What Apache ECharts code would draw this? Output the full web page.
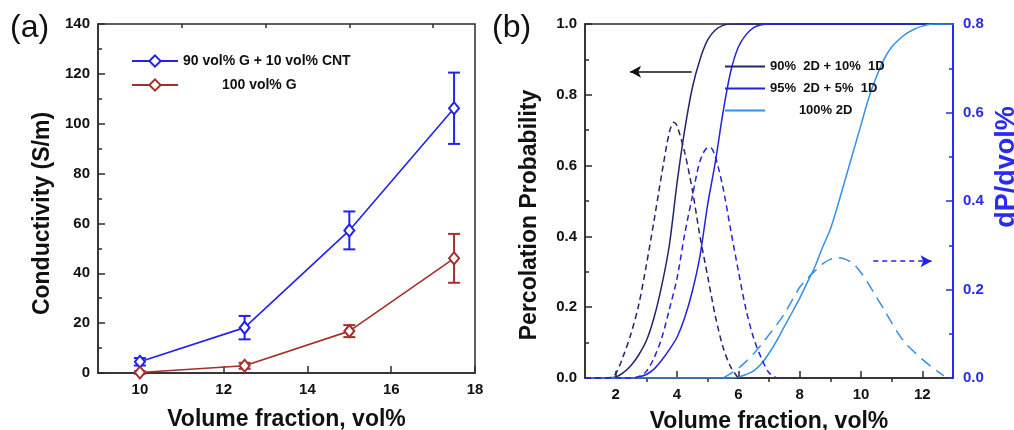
<!DOCTYPE html>
<html>
<head>
<meta charset="utf-8">
<script src="https://cdn.jsdelivr.net/npm/echarts@6/dist/echarts.min.js"></script>
<style>
  html, body { margin: 0; padding: 0; background: #fff; }
  #chart { width: 1014px; height: 430px; }
</style>
</head>
<body>
<div id="chart"></div>
<script>
// panel (a): conductivity vs volume fraction
const fracA = [10, 12.5, 15, 17.5]
const cntCond = [4.5, 18.2, 57.2, 106.2]
const cntErr = [1.5, 4.7, 7.6, 14.3]
const gCond = [0.2, 2.9, 16.8, 46.0]
const gErr = [0.5, 1.2, 2.4, 9.8]
const ticksA = [10, 12, 14, 16, 18]
const minorA = [11, 13, 15, 17]

// panel (b): percolation probability (left axis) and dP/dvol% (right axis)
const navyPX = [1, 1.5, 2, 2.25, 2.5, 2.75, 3, 3.25, 3.5, 3.75, 4, 4.25, 4.5, 4.75, 5, 5.25, 5.5, 5.75, 6, 13]
const navyP = [0, 0, 0.003, 0.015, 0.035, 0.065, 0.105, 0.17, 0.26, 0.375, 0.55, 0.70, 0.82, 0.90, 0.955, 0.983, 0.996, 1, 1, 1]
const bluePX = [1, 2.5, 2.75, 3, 3.25, 3.5, 3.75, 4, 4.25, 4.5, 4.75, 5, 5.25, 5.5, 5.75, 6, 6.25, 6.5, 6.75, 7, 13]
const blueP = [0, 0, 0.003, 0.01, 0.025, 0.05, 0.08, 0.115, 0.17, 0.245, 0.345, 0.49, 0.61, 0.75, 0.865, 0.935, 0.97, 0.99, 0.998, 1, 1]
const lightPX = [1, 5.75, 6, 6.25, 6.5, 6.75, 7, 7.25, 7.5, 7.75, 8, 8.25, 8.5, 8.75, 9, 9.25, 9.5, 9.75, 10, 10.25, 10.5, 10.75, 11, 11.25, 11.5, 11.75, 12, 12.25, 12.5, 13]
const lightP = [0, 0, 0.003, 0.01, 0.02, 0.04, 0.07, 0.105, 0.145, 0.185, 0.225, 0.27, 0.315, 0.37, 0.42, 0.49, 0.565, 0.64, 0.715, 0.79, 0.85, 0.9, 0.935, 0.957, 0.974, 0.986, 0.994, 0.999, 1, 1]

const navyDX = [1, 1.75, 2, 2.25, 2.5, 2.75, 3, 3.25, 3.5, 3.75, 3.9, 4, 4.25, 4.5, 4.75, 5, 5.25, 5.5, 5.75, 6]
const navyD = [0, 0, 0.01, 0.05, 0.1, 0.165, 0.255, 0.355, 0.46, 0.555, 0.578, 0.57, 0.51, 0.425, 0.32, 0.23, 0.14, 0.07, 0.025, 0]
const blueDX = [1, 2.5, 2.75, 3, 3.25, 3.5, 3.75, 4, 4.25, 4.5, 4.75, 5, 5.1, 5.25, 5.5, 5.75, 6, 6.25, 6.5, 6.75, 7, 7.25]
const blueD = [0, 0, 0.003, 0.015, 0.045, 0.09, 0.155, 0.225, 0.325, 0.41, 0.49, 0.52, 0.52, 0.5, 0.43, 0.335, 0.242, 0.155, 0.09, 0.045, 0.012, 0]
const lightDX = [5.5, 5.75, 6, 6.25, 6.5, 6.75, 7, 7.25, 7.5, 7.75, 8, 8.25, 8.5, 8.75, 9, 9.25, 9.5, 9.75, 10, 10.25, 10.5, 10.75, 11, 11.25, 11.5, 11.75, 12, 12.25, 12.5, 12.7]
const lightD = [0, 0.01, 0.022, 0.037, 0.055, 0.075, 0.098, 0.12, 0.145, 0.175, 0.205, 0.225, 0.242, 0.258, 0.268, 0.272, 0.268, 0.258, 0.238, 0.212, 0.183, 0.155, 0.125, 0.097, 0.075, 0.058, 0.042, 0.028, 0.015, 0.005]
const ticksB = [2, 4, 6, 8, 10, 12]
const minorB = [3, 5, 7, 9, 11]

// arrows pointing to the axis each family belongs to
const leftArrow = [[4.48, 0.865], [2.47, 0.865]]
const rightArrow = [[10.4, 0.264], [12.3, 0.264]]

const FONT = 'Liberation Sans, Arial, sans-serif'
const DARK = '#2b2b2b'
const NAVY = '#24246e'
const BLUE = '#2323dc'
const LIGHT = '#3590e8'
const AXBLUE = '#2a2af0'

const pairs = (xs, ys) => xs.map((x, i) => [x, ys[i]])
const errData = (ys, es) => fracA.map((x, i) => [x, ys[i] - es[i], ys[i] + es[i]])

const errItem = (params, api) => {
  const x = api.value(0)
  const top = api.coord([x, api.value(2)])
  const bot = api.coord([x, api.value(1)])
  const w = 6
  const st = { stroke: api.visual('color'), lineWidth: 2 }
  return {
    type: 'group',
    children: [
      { type: 'line', shape: { x1: top[0], y1: top[1], x2: bot[0], y2: bot[1] }, style: st },
      { type: 'line', shape: { x1: top[0] - w, y1: top[1], x2: top[0] + w, y2: top[1] }, style: st },
      { type: 'line', shape: { x1: bot[0] - w, y1: bot[1], x2: bot[0] + w, y2: bot[1] }, style: st }
    ]
  }
}

const tickLbl = { fontFamily: FONT, fontWeight: 'bold', fontSize: 15, color: '#111' }
const nameStyle = { fontFamily: FONT, fontWeight: 'bold', fontSize: 23, color: '#111' }

const chart = echarts.init(document.getElementById('chart'))
chart.setOption({
  backgroundColor: '#fff',
  animation: false,
  grid: [
    { left: 98, top: 24, width: 377, height: 349, outerBoundsMode: 'none', show: true, borderColor: DARK, borderWidth: 1.5 },
    { left: 585, top: 24, width: 368, height: 354, outerBoundsMode: 'none', show: true, borderColor: DARK, borderWidth: 1.5 }
  ],
  xAxis: [
    {
      gridIndex: 0, type: 'value', min: 9, max: 18,
      name: 'Volume fraction, vol%', nameLocation: 'middle', nameGap: 35, nameTextStyle: nameStyle,
      axisLine: { lineStyle: { color: DARK, width: 1.5 } },
      axisTick: { inside: true, length: 7, customValues: ticksA, lineStyle: { color: DARK, width: 1.5 } },
      axisLabel: { customValues: ticksA, margin: 9, ...tickLbl },
      splitLine: { show: false }
    },
    {
      gridIndex: 0, type: 'value', min: 9, max: 18,
      axisLine: { show: false }, axisLabel: { show: false }, splitLine: { show: false },
      axisTick: { inside: true, length: 4, customValues: minorA, lineStyle: { color: DARK, width: 1.5 } }
    },
    {
      gridIndex: 1, type: 'value', min: 1, max: 13,
      name: 'Volume fraction, vol%', nameLocation: 'middle', nameGap: 32, nameTextStyle: nameStyle,
      axisLine: { lineStyle: { color: DARK, width: 1.5 } },
      axisTick: { inside: true, length: 7, customValues: ticksB, lineStyle: { color: DARK, width: 1.5 } },
      axisLabel: { customValues: ticksB, margin: 9, ...tickLbl },
      splitLine: { show: false }
    },
    {
      gridIndex: 1, type: 'value', min: 1, max: 13,
      axisLine: { show: false }, axisLabel: { show: false }, splitLine: { show: false },
      axisTick: { inside: true, length: 4, customValues: minorB, lineStyle: { color: DARK, width: 1.5 } }
    }
  ],
  yAxis: [
    {
      gridIndex: 0, type: 'value', min: 0, max: 140, interval: 20,
      name: 'Conductivity (S/m)', nameLocation: 'middle', nameGap: 44,
      nameTextStyle: { ...nameStyle, padding: [0, 30, 0, 0] },
      axisLine: { show: true, lineStyle: { color: DARK, width: 1.5 } },
      axisTick: { inside: true, length: 7, lineStyle: { color: DARK, width: 1.5 } },
      minorTick: { show: true, splitNumber: 2, length: 4, lineStyle: { color: DARK, width: 1.5 } },
      axisLabel: { margin: 8, ...tickLbl },
      splitLine: { show: false }
    },
    {
      gridIndex: 1, type: 'value', min: 0, max: 1, interval: 0.2,
      name: 'Percolation Probability', nameLocation: 'middle', nameGap: 44,
      nameTextStyle: { ...nameStyle, padding: [0, 28, 0, 0] },
      axisLine: { show: true, lineStyle: { color: DARK, width: 1.5 } },
      axisTick: { inside: true, length: 7, lineStyle: { color: DARK, width: 1.5 } },
      minorTick: { show: true, splitNumber: 2, length: 4, lineStyle: { color: DARK, width: 1.5 } },
      axisLabel: { margin: 8, formatter: v => v.toFixed(1), ...tickLbl },
      splitLine: { show: false }
    },
    {
      gridIndex: 1, type: 'value', min: 0, max: 0.8, interval: 0.2, position: 'right',
      axisLine: { show: true, lineStyle: { color: AXBLUE, width: 2 } },
      axisTick: { inside: true, length: 7, lineStyle: { color: AXBLUE, width: 1.5 } },
      minorTick: { show: true, splitNumber: 2, length: 4, lineStyle: { color: AXBLUE, width: 1.5 } },
      axisLabel: { margin: 10, formatter: v => v.toFixed(1), ...tickLbl, color: AXBLUE },
      splitLine: { show: false }
    }
  ],
  legend: [
    {
      left: 126, top: 49, orient: 'vertical', itemWidth: 46, itemHeight: 14, itemGap: 10,
      data: ['90 vol% G + 10 vol% CNT', '100 vol% G'],
      formatter: n => (n === '100 vol% G' ? '          ' + n : n),
      textStyle: { fontFamily: FONT, fontWeight: 'bold', fontSize: 14, color: '#111' }
    },
    {
      left: 719, top: 55, orient: 'vertical', itemWidth: 40, itemHeight: 12, itemGap: 9,
      data: ['90% 2D + 10% 1D', '95% 2D + 5% 1D', '100% 2D'],
      itemStyle: { opacity: 0 },
      lineStyle: { width: 2 },
      formatter: n => (n === '100% 2D' ? '        ' + n : n.replace(/% /g, '%  ')),
      textStyle: { fontFamily: FONT, fontWeight: 'bold', fontSize: 13, color: '#111' }
    }
  ],
  graphic: [
    { type: 'text', left: 10, top: 12, style: { text: '(a)', font: '32px ' + FONT, fill: '#111' } },
    { type: 'text', left: 492, top: 12, style: { text: '(b)', font: '32px ' + FONT, fill: '#111' } },
    {
      type: 'text', x: 1007, y: 167, rotation: Math.PI / 2,
      style: { text: 'dP/dvol%', font: 'bold 27px ' + FONT, fill: AXBLUE, align: 'center', verticalAlign: 'middle' }
    }
  ],
  series: [
    {
      type: 'custom', name: 'cntErr', xAxisIndex: 0, yAxisIndex: 0, z: 1,
      itemStyle: { color: '#2222ee' }, renderItem: errItem,
      encode: { x: 0, y: [1, 2] }, data: errData(cntCond, cntErr)
    },
    {
      type: 'custom', name: 'gErr', xAxisIndex: 0, yAxisIndex: 0, z: 1,
      itemStyle: { color: '#a2302c' }, renderItem: errItem,
      encode: { x: 0, y: [1, 2] }, data: errData(gCond, gErr)
    },
    {
      type: 'line', name: '90 vol% G + 10 vol% CNT', xAxisIndex: 0, yAxisIndex: 0, z: 3,
      symbol: 'emptyDiamond', symbolSize: [10, 12], color: '#2222ee',
      lineStyle: { width: 1.6 }, itemStyle: { borderWidth: 1.6 },
      data: pairs(fracA, cntCond)
    },
    {
      type: 'line', name: '100 vol% G', xAxisIndex: 0, yAxisIndex: 0, z: 3,
      symbol: 'emptyDiamond', symbolSize: [10, 12], color: '#a2302c',
      lineStyle: { width: 1.6 }, itemStyle: { borderWidth: 1.6 },
      data: pairs(fracA, gCond)
    },
    {
      type: 'line', name: '90% 2D + 10% 1D', xAxisIndex: 2, yAxisIndex: 1,
      symbol: 'none', smooth: 0.3, color: NAVY, lineStyle: { width: 1.5 },
      data: pairs(navyPX, navyP),
      markLine: {
        silent: true, symbol: ['none', 'arrow'], symbolSize: [9, 11], label: { show: false },
        lineStyle: { color: '#111', width: 1.5, type: 'solid' },
        data: [[{ coord: leftArrow[0] }, { coord: leftArrow[1] }]]
      }
    },
    {
      type: 'line', name: '95% 2D + 5% 1D', xAxisIndex: 2, yAxisIndex: 1,
      symbol: 'none', smooth: 0.3, color: BLUE, lineStyle: { width: 1.5 },
      data: pairs(bluePX, blueP)
    },
    {
      type: 'line', name: '100% 2D', xAxisIndex: 2, yAxisIndex: 1,
      symbol: 'none', smooth: 0.3, color: LIGHT, lineStyle: { width: 1.5 },
      data: pairs(lightPX, lightP)
    },
    {
      type: 'line', name: 'dNavy', xAxisIndex: 2, yAxisIndex: 2,
      symbol: 'none', smooth: 0.3, color: NAVY, lineStyle: { width: 1.5, type: [6, 4] },
      data: pairs(navyDX, navyD)
    },
    {
      type: 'line', name: 'dBlue', xAxisIndex: 2, yAxisIndex: 2,
      symbol: 'none', smooth: 0.3, color: BLUE, lineStyle: { width: 1.5, type: [6, 4] },
      data: pairs(blueDX, blueD)
    },
    {
      type: 'line', name: 'dLight', xAxisIndex: 2, yAxisIndex: 2,
      symbol: 'none', smooth: 0.3, color: LIGHT, lineStyle: { width: 1.5, type: [12, 7] },
      data: pairs(lightDX, lightD),
      markLine: {
        silent: true, symbol: ['none', 'arrow'], symbolSize: [9, 11], label: { show: false },
        lineStyle: { color: '#2020ee', width: 1.5, type: [5, 4] },
        data: [[{ coord: rightArrow[0] }, { coord: rightArrow[1] }]]
      }
    }
  ]
})
</script>
</body>
</html>
